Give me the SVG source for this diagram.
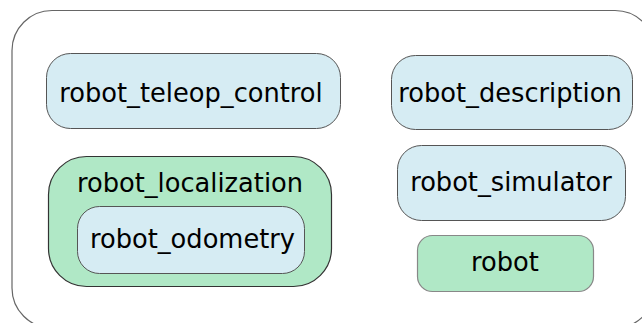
<svg xmlns="http://www.w3.org/2000/svg" width="642" height="323" viewBox="0 0 642 323">
  <style>
    .frame { fill: #ffffff; stroke: #666666; stroke-width: 1.2; }
    .pkg { fill: #d6ecf3; stroke: #555555; stroke-width: 1; }
    .grp { fill: #b0e8c6; stroke: #333333; stroke-width: 1.2; }
    .leaf { fill: #b0e8c6; stroke: #888888; stroke-width: 1.2; }
    .label { font-family: "DejaVu Sans", "Liberation Sans", sans-serif; font-size: 25.7px; fill: #000000; text-anchor: middle; }
  </style>
  <rect width="642" height="323" fill="#ffffff"/>
  <!-- enclosing workspace frame, running off the right and bottom edges -->
  <rect class="frame" x="12" y="10.5" width="643" height="317.5" rx="40" ry="40"/>
  <g id="robot_teleop_control">
    <rect class="pkg" x="46.5" y="53.5" width="294" height="75" rx="24" ry="24"/>
    <text class="label" x="191" y="101.5">robot_teleop_control</text>
  </g>
  <g id="robot_localization">
    <rect class="grp" x="48.5" y="156.5" width="283" height="130" rx="38" ry="38"/>
    <text class="label" x="190" y="191.5">robot_localization</text>
    <g id="robot_odometry">
      <rect class="pkg" x="77.5" y="206.5" width="227" height="67" rx="22" ry="22"/>
      <text class="label" x="192.5" y="247.5">robot_odometry</text>
    </g>
  </g>
  <g id="robot_description">
    <rect class="pkg" x="391.5" y="55.5" width="241" height="74" rx="24" ry="24"/>
    <text class="label" x="510" y="102">robot_description</text>
  </g>
  <g id="robot_simulator">
    <rect class="pkg" x="397.5" y="145.5" width="228" height="75" rx="24" ry="24"/>
    <text class="label" x="511" y="190.5">robot_simulator</text>
  </g>
  <g id="robot">
    <rect class="leaf" x="417.5" y="235.5" width="176" height="56" rx="15" ry="15"/>
    <text class="label" x="505" y="271">robot</text>
  </g>
  <g id="connectors"/>
</svg>
